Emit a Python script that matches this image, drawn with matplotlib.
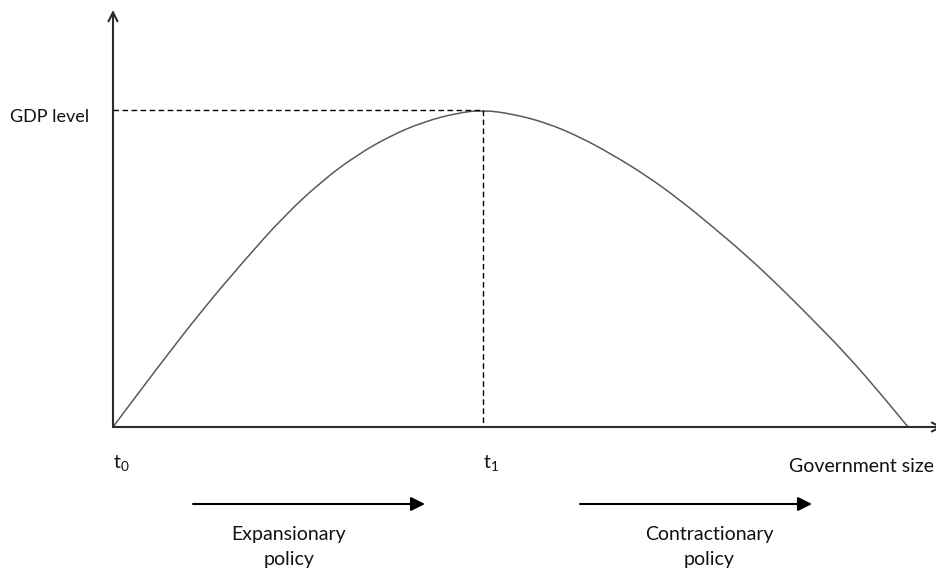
import matplotlib
matplotlib.use("Agg")
import matplotlib.pyplot as plt
from matplotlib.path import Path
from matplotlib.patches import PathPatch

# Curve (x: government size, y: GDP level), arbitrary units
gov_size = [0, 45, 90, 130, 170, 210, 244, 277, 310, 344, 370, 400, 434, 467,
            500, 534, 567, 600, 634, 667, 700, 734, 767, 795]
gdp = [0, 60, 118, 165, 210, 247, 272, 291, 305, 314, 317, 313, 304, 290,
       272, 251, 227, 200, 171, 140, 107, 72, 34, 0]

t1 = 370          # government size at the GDP maximum
gdp_peak = 317    # maximum GDP level
x_axis_end = 830
y_axis_end = 417

y_label = "GDP level"
x_label = "Government size"
t_labels = ["t", "t"]
t_subs = ["0", "1"]
policy_labels = ["Expansionary\npolicy", "Contractionary\npolicy"]

plt.rcParams['font.family'] = ['Lato', 'DejaVu Sans']
plt.rcParams['mathtext.fontset'] = 'custom'
plt.rcParams['mathtext.rm'] = 'Lato'
plt.rcParams['mathtext.it'] = 'Lato'

fig = plt.figure(figsize=(9.36, 5.73), dpi=100)
ax = fig.add_axes([0, 0, 1, 1])
ax.set_xlim(-113, 936 - 113)
ax.set_ylim(427 - 573, 427)
ax.axis('off')

axis_color = '#2b2b2b'
text_color = '#111111'

# axes with arrows
ax.annotate('', xy=(0, y_axis_end), xytext=(0, 0), annotation_clip=False,
            arrowprops=dict(arrowstyle='->', color=axis_color, lw=1.5,
                            mutation_scale=16, shrinkA=0, shrinkB=0))
ax.annotate('', xy=(x_axis_end, 0), xytext=(0, 0), annotation_clip=False,
            arrowprops=dict(arrowstyle='->', color=axis_color, lw=1.5,
                            mutation_scale=16, shrinkA=0, shrinkB=0))

# smooth curve through the read points (quadratic Bezier via midpoints)
pts = list(zip(gov_size, gdp))
verts = [pts[0]]
codes = [Path.MOVETO]
verts.append(((pts[0][0] + pts[1][0]) / 2, (pts[0][1] + pts[1][1]) / 2))
codes.append(Path.LINETO)
for i in range(1, len(pts) - 1):
    nxt = pts[i + 1]
    mid = ((pts[i][0] + nxt[0]) / 2, (pts[i][1] + nxt[1]) / 2)
    verts += [pts[i], mid]
    codes += [Path.CURVE3, Path.CURVE3]
verts.append(pts[-1])
codes.append(Path.LINETO)
ax.add_patch(PathPatch(Path(verts, codes), facecolor='none',
                       edgecolor='#5a5a5a', lw=1.1))

# dashed guides
ax.plot([0, t1], [gdp_peak, gdp_peak], color='black', lw=1.0,
        dashes=(4, 2.5))
ax.plot([t1, t1], [gdp_peak, 0], color='black', lw=1.0, dashes=(4, 2.5))

# labels
ax.text(-103, 427 - 117, y_label, fontsize=13, color=text_color,
        ha='left', va='center')
ax.text(934 - 113, 427 - 466, x_label, fontsize=14, color=text_color,
        ha='right', va='center')
for xpos, t, s in zip([0, t1], t_labels, t_subs):
    ax.text(xpos, 427 - 463, r"$\mathrm{%s}_{\mathrm{%s}}$" % (t, s),
            fontsize=14, color=text_color, ha='left', va='center')

# policy arrows
arrow_starts = [193 - 113, 580 - 113]
arrow_ends = [425 - 113, 812 - 113]
label_centers = [289 - 113, 709 - 113]
for xs, xe, xc, lab in zip(arrow_starts, arrow_ends, label_centers, policy_labels):
    ax.annotate('', xy=(xe, 427 - 504), xytext=(xs, 427 - 504),
                arrowprops=dict(arrowstyle='-|>', color='black', lw=1.5,
                                mutation_scale=21, shrinkA=0, shrinkB=0))
    ax.text(xc, 427 - 547, lab, fontsize=14, color=text_color,
            ha='center', va='center', linespacing=1.6)

fig.savefig('out.png', dpi=100)
